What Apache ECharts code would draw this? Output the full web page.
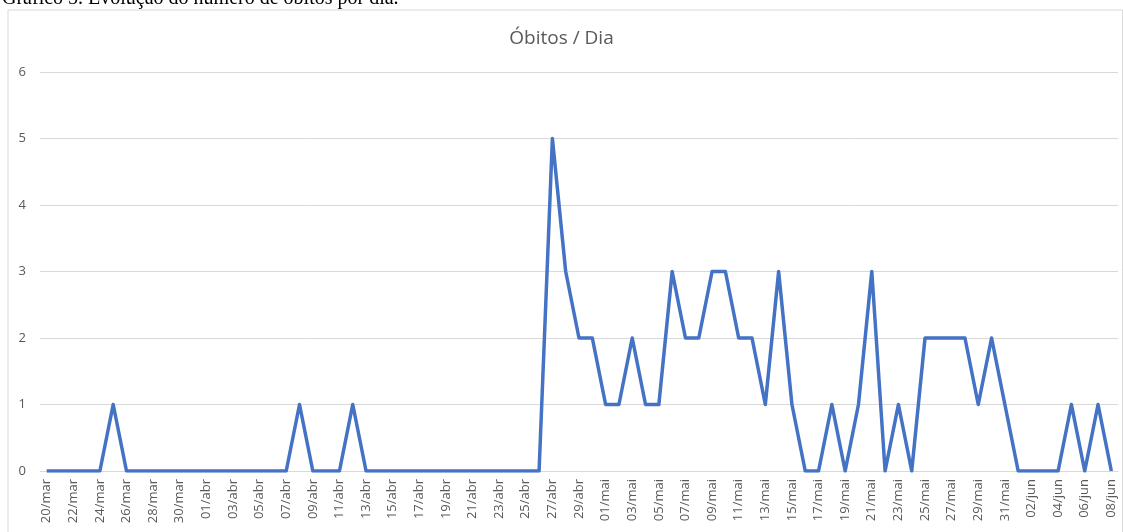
<!DOCTYPE html>
<html>
<head>
<meta charset="utf-8">
<script src="https://cdn.jsdelivr.net/npm/echarts@6/dist/echarts.min.js"></script>
<style>html,body{margin:0;padding:0;background:#fff;}#c{width:1123px;height:532px;}</style>
</head>
<body>
<div id="c"></div>
<script>
const pageCaption = 'Gráfico 5. Evolução do número de óbitos por dia.';
const chartTitle = 'Óbitos / Dia';
const dates = [
  '20/mar','21/mar','22/mar','23/mar','24/mar','25/mar','26/mar','27/mar','28/mar','29/mar','30/mar','31/mar',
  '01/abr','02/abr','03/abr','04/abr','05/abr','06/abr','07/abr','08/abr','09/abr','10/abr','11/abr','12/abr','13/abr','14/abr','15/abr','16/abr','17/abr','18/abr','19/abr','20/abr','21/abr','22/abr','23/abr','24/abr','25/abr','26/abr','27/abr','28/abr','29/abr','30/abr',
  '01/mai','02/mai','03/mai','04/mai','05/mai','06/mai','07/mai','08/mai','09/mai','10/mai','11/mai','12/mai','13/mai','14/mai','15/mai','16/mai','17/mai','18/mai','19/mai','20/mai','21/mai','22/mai','23/mai','24/mai','25/mai','26/mai','27/mai','28/mai','29/mai','30/mai','31/mai',
  '01/jun','02/jun','03/jun','04/jun','05/jun','06/jun','07/jun','08/jun'
];
const deaths = [
  0,0,0,0,0,1,0,0,0,0,0,0,
  0,0,0,0,0,0,0,1,0,0,0,1,0,0,0,0,0,0,0,0,0,0,0,0,0,0,5,3,2,2,
  1,1,2,1,1,3,2,2,3,3,2,2,1,3,1,0,0,1,0,1,3,0,1,0,2,2,2,2,1,2,1,
  0,0,0,0,1,0,1,0
];
const yTicks = [0,1,2,3,4,5,6];

const chart = echarts.init(document.getElementById('c'));
chart.setOption({
  animation: false,
  graphic: [
    { type: 'rect', shape: { x: 8, y: 10, width: 1114.5, height: 530 }, style: { fill: 'none', stroke: '#d9d9d9', lineWidth: 1 }, silent: true },
    { type: 'text', left: 2, top: -11, style: { text: pageCaption, font: '20px "Liberation Serif"', fill: '#000' } }
  ],
  title: {
    text: chartTitle, left: 'center', top: 24,
    textStyle: { fontFamily: 'Open Sans', fontSize: 19, fontWeight: 'normal', color: '#595959' }
  },
  grid: { left: 40, right: 5, top: 72, bottom: 61 },
  xAxis: {
    type: 'category', data: dates, boundaryGap: true,
    axisLine: { show: true, lineStyle: { color: '#d9d9d9', width: 1 } },
    axisTick: { show: false },
    axisLabel: { interval: 1, rotate: 90, margin: 8, color: '#595959', fontFamily: 'Open Sans', fontSize: 13 }
  },
  yAxis: {
    type: 'value', min: 0, max: 6, interval: 1,
    axisLine: { show: false }, axisTick: { show: false },
    axisLabel: { margin: 14, color: '#595959', fontFamily: 'Open Sans', fontSize: 13, formatter: v => yTicks.includes(v) ? String(v) : '' },
    splitLine: { lineStyle: { color: '#d9d9d9', width: 1 } }
  },
  series: [{
    type: 'line', data: deaths, symbol: 'none',
    lineStyle: { color: '#4472C4', width: 3.5, join: 'round' }
  }]
});
</script>
</body>
</html>
